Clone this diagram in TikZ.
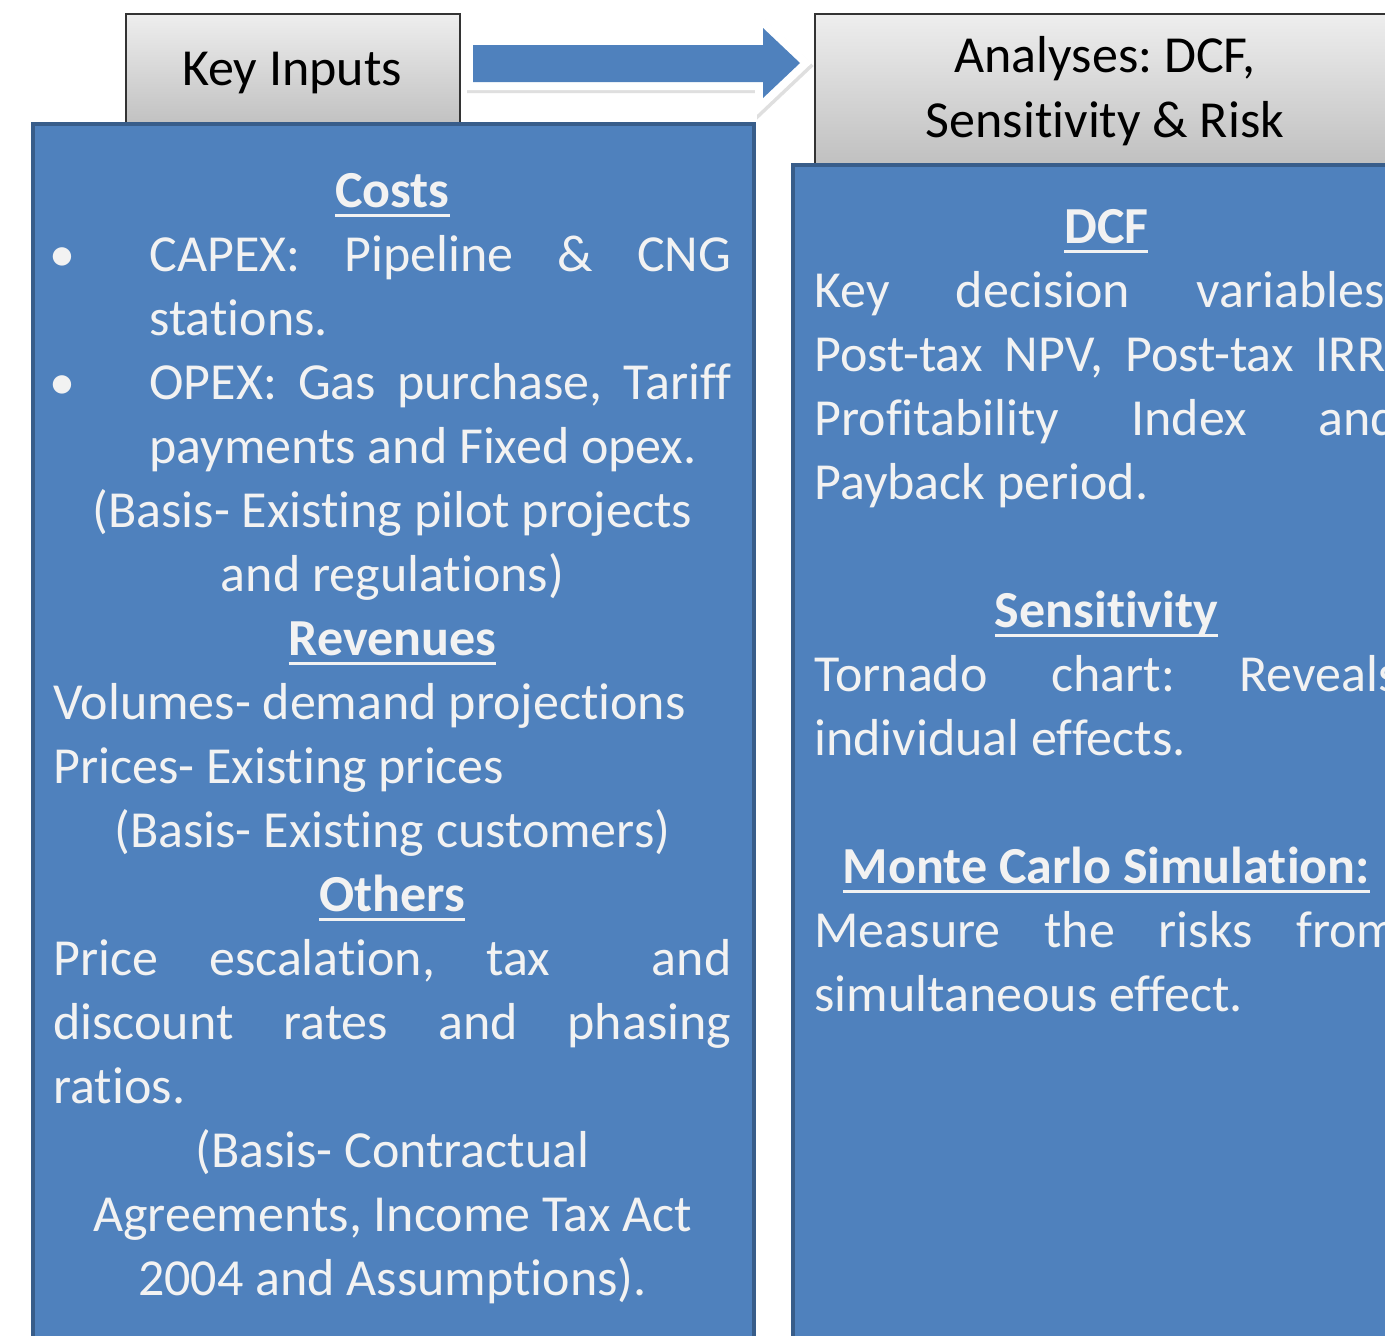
\documentclass[tikz,border=0pt]{standalone}
\usepackage{fontspec}
\setmainfont[Ligatures=NoCommon]{Carlito}
\definecolor{BoxBlue}{HTML}{4F81BD}
\definecolor{BoxEdge}{HTML}{385D8A}
\definecolor{HeadTop}{HTML}{EEEEEE}
\definecolor{HeadBottom}{HTML}{BDBDBD}
\definecolor{PaleText}{HTML}{F2F2F2}

% bold heading with a thick rule under it
\newcommand{\boxheading}[1]{\leavevmode{\bfseries\setbox0=\hbox{#1}\rlap{\vrule height -3.2pt depth 4.8pt width \wd0}\box0}}
% bullet with hanging indent
\newcommand{\bulletitem}{\noindent\hangindent=48pt\hangafter=1\makebox[48pt][l]{\hspace{-2pt}\textbullet}}

\begin{document}
\begin{tikzpicture}[x=0.5pt,y=-0.5pt,
  headbox/.style={draw=black!80,line width=1pt,top color=HeadTop,bottom color=HeadBottom,
    inner sep=0pt,anchor=north west},
  headtext/.style={font=\fontsize{26}{32.5}\selectfont,align=center,inner sep=0pt},
  bluebox/.style={draw=BoxEdge,fill=BoxBlue,line width=2pt,inner sep=0pt,anchor=north west},
  bodytext/.style={font=\fontsize{26}{32}\selectfont,text=PaleText,inner sep=0pt,anchor=north west,
    align=justify,execute at begin node={\setlength{\parindent}{0pt}\setlength{\parskip}{0pt}\frenchspacing}}]
\useasboundingbox (0,0) rectangle (1385,1335);
\fill[white] (0,0) rectangle (1385,1335);
\clip (0,0) rectangle (1385,1335);

% header tabs
\node[headbox,minimum width=167pt,minimum height=60pt] (inputshead) at (125,13) {};
\node[headbox,minimum width=291pt,minimum height=80pt] (analyseshead) at (814,13) {};
\node[headtext,anchor=base] (inputslabel) at (292,85) {Key Inputs};
\node[headtext,anchor=base,execute at begin node=\frenchspacing] (analyseslabel) at (1105,137)
  {Analyses: DCF,\\Sensitivity \& Risk};

% block arrow between the tabs
\path[fill=BoxBlue,line join=miter,
  preaction={draw=gray!25,line width=8pt,line join=miter,transform canvas={shift={(1pt,-1.5pt)}}},
  preaction={draw=white,line width=8pt,line join=miter}]
  (473,45) -- (763,45) -- (763,28) -- (800,63) -- (763,98) -- (763,82) -- (473,82) -- cycle;

% the two panels
\node[bluebox,minimum width=360.5pt,minimum height=619pt] (inputsbox) at (31,122) {};
\node[bluebox,minimum width=315pt,minimum height=600pt] (analysesbox) at (791,163) {};

\node[bodytext,text width=339pt] (inputstext) at (53,159) {%
  {\centering\rule{0pt}{24pt}\boxheading{Costs}\par}
  \bulletitem CAPEX: Pipeline \& CNG\linebreak stations.\par
  \bulletitem OPEX: Gas purchase, Tariff\linebreak payments and Fixed opex.\par
  {\centering (Basis- Existing pilot projects\\ and regulations)\par}
  {\centering\boxheading{Revenues}\par}
  Volumes- demand projections\\ Prices- Existing prices\par
  {\centering (Basis- Existing customers)\par}
  {\centering\boxheading{Others}\par}
  Price escalation, tax~\ and\linebreak discount rates and phasing\linebreak ratios.\par
  {\centering (Basis- Contractual\\ Agreements, Income Tax Act\\ 2004 and Assumptions).\par}};

\node[bodytext,text width=292pt] (analysestext) at (814,195) {%
  {\centering\rule{0pt}{24pt}\boxheading{DCF}\par}
  Key decision variables:\linebreak Post-tax NPV, Post-tax IRR,\linebreak
  Profitability Index and\linebreak Payback period.\par
  \mbox{}\par
  {\centering\boxheading{Sensitivity}\par}
  Tornado chart: Reveals\linebreak individual effects.\par
  \mbox{}\par
  {\centering\boxheading{Monte Carlo Simulation:}\par}
  Measure the risks from\linebreak simultaneous effect.\par};
\end{tikzpicture}
\end{document}
